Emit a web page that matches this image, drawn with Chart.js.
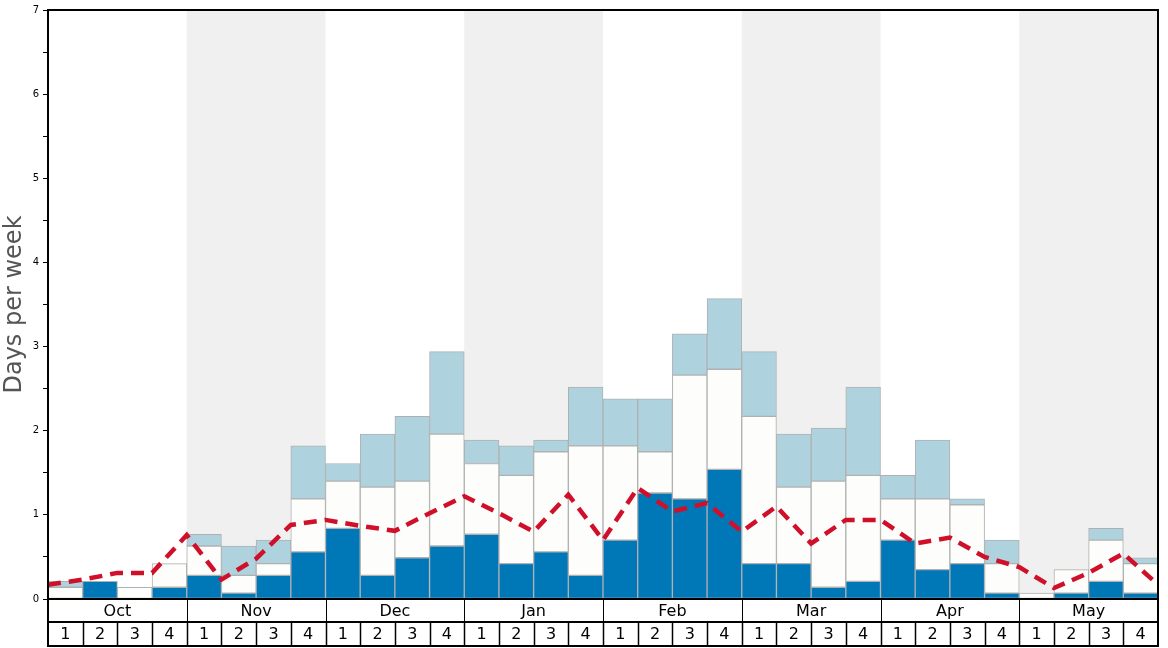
<!DOCTYPE html>
<html>
<head>
<meta charset="utf-8">
<script src="https://cdn.jsdelivr.net/npm/chart.js@4/dist/chart.umd.min.js"></script>
<style>
  body { margin: 0; background: #fff; }
  #wrap { width: 1168px; height: 648px; }
</style>
</head>
<body>
<div id="wrap"><canvas id="c" width="1168" height="648"></canvas></div>
<script>
const months = ["Oct", "Nov", "Dec", "Jan", "Feb", "Mar", "Apr", "May"];
const weeks = ["1", "2", "3", "4"];

// stacked segments, days per week
const deepDays = [
  0, 0.21, 0, 0.14,
  0.28, 0.07, 0.28, 0.56,
  0.84, 0.28, 0.49, 0.63,
  0.77, 0.42, 0.56, 0.28,
  0.70, 1.26, 1.19, 1.54,
  0.42, 0.42, 0.14, 0.21,
  0.70, 0.35, 0.42, 0.07,
  0, 0.07, 0.21, 0.07
];
const midDays = [
  0.14, 0, 0.14, 0.28,
  0.35, 0.21, 0.14, 0.63,
  0.56, 1.05, 0.91, 1.33,
  0.84, 1.05, 1.19, 1.54,
  1.12, 0.49, 1.47, 1.19,
  1.75, 0.91, 1.26, 1.26,
  0.49, 0.84, 0.70, 0.35,
  0.07, 0.28, 0.49, 0.35
];
const lightDays = [
  0.07, 0, 0, 0,
  0.14, 0.35, 0.28, 0.63,
  0.21, 0.63, 0.77, 0.98,
  0.28, 0.35, 0.14, 0.70,
  0.56, 0.63, 0.49, 0.84,
  0.77, 0.63, 0.63, 1.05,
  0.28, 0.70, 0.07, 0.28,
  0, 0, 0.14, 0.07
];
// average line, one value per week boundary
const avgLine = [
  0.17, 0.23, 0.31, 0.31, 0.76, 0.23, 0.48, 0.88,
  0.94, 0.87, 0.81, 1.02, 1.22, 1.02, 0.80, 1.24,
  0.70, 1.32, 1.04, 1.14, 0.80, 1.10, 0.66, 0.94,
  0.94, 0.66, 0.73, 0.50, 0.38, 0.13, 0.31, 0.54,
  0.17
];
const yTicks = [0, 1, 2, 3, 4, 5, 6, 7];

const labels = [];
months.forEach(m => weeks.forEach(w => labels.push(m + " " + w)));

const barStyle = {
  borderColor: "#b0b0b0",
  borderWidth: 1,
  borderSkipped: false,
  barPercentage: 1,
  categoryPercentage: 1,
  grouped: false,
  stack: "days",
  order: 1,
};

new Chart(document.getElementById("c"), {
  type: "bar",
  data: {
    labels: labels,
    datasets: [
      {
        type: "line",
        data: avgLine.map((v, i) => ({ x: i, y: v })),
        xAxisID: "x2",
        borderColor: "#d0102a",
        borderWidth: 4.5,
        borderDash: [13, 8],
        pointRadius: 0,
        tension: 0,
        fill: false,
        order: 0,
      },
      { ...barStyle, data: deepDays, backgroundColor: "#0077b6" },
      { ...barStyle, data: midDays, backgroundColor: "#fdfdfb" },
      { ...barStyle, data: lightDays, backgroundColor: "#aed3df" },
    ],
  },
  options: {
    responsive: false,
    animation: false,
    layout: { padding: { top: 10, right: 10, left: 0, bottom: 0 } },
    plugins: { legend: { display: false }, tooltip: { enabled: false } },
    scales: {
      x: {
        stacked: true,
        grid: { display: false },
        border: { display: false },
        ticks: { display: false },
        afterFit(scale) { scale.height = 49; },
      },
      x2: {
        type: "linear",
        min: 0,
        max: 32,
        offset: false,
        grid: { offset: false },
        display: false,
      },
      y: {
        stacked: true,
        min: 0,
        max: 7,
        afterFit(scale) { scale.width = 48; },
        ticks: {
          stepSize: 0.5,
          padding: 4,
          color: "#000",
          font: { family: "DejaVu Sans", size: 10 },
          callback: function (value) {
            return yTicks.includes(value) ? String(value) : "";
          },
        },
        grid: { drawOnChartArea: false, tickLength: 5, color: "#000" },
        border: { display: true, color: "#000", width: 2 },
        title: {
          display: true,
          text: "Days per week",
          color: "#555",
          padding: 0,
          font: { family: "DejaVu Sans", size: 24 },
        },
      },
    },
  },
  plugins: [
    {
      id: "monthBands",
      beforeDatasetsDraw(chart) {
        const ctx = chart.ctx;
        const x = chart.scales.x2;
        const { top, bottom } = chart.chartArea;
        ctx.save();
        ctx.fillStyle = "#f0f0f0";
        months.forEach((m, i) => {
          if (i % 2 === 1) {
            const l = x.getPixelForValue(i * 4);
            const r = x.getPixelForValue(i * 4 + 4);
            ctx.fillRect(l, top, r - l, bottom - top);
          }
        });
        ctx.restore();
      },
    },
    {
      id: "frameAndAxis",
      afterDraw(chart) {
        const ctx = chart.ctx;
        const x = chart.scales.x2;
        const { left, right, top, bottom } = chart.chartArea;
        const mid = bottom + 23;
        const end = 646;
        ctx.save();
        ctx.strokeStyle = "#000";

        // month separators
        ctx.lineWidth = 1;
        for (let i = 1; i < months.length; i++) {
          const px = Math.round(x.getPixelForValue(i * 4)) + 0.5;
          ctx.beginPath();
          ctx.moveTo(px, bottom);
          ctx.lineTo(px, mid);
          ctx.stroke();
        }
        // week separators
        ctx.lineWidth = 1.5;
        for (let i = 1; i < labels.length; i++) {
          const px = Math.round(x.getPixelForValue(i)) + 0.5;
          ctx.beginPath();
          ctx.moveTo(px, mid);
          ctx.lineTo(px, end);
          ctx.stroke();
        }
        ctx.lineWidth = 2;
        ctx.beginPath();
        ctx.moveTo(left, mid);
        ctx.lineTo(right, mid);
        ctx.moveTo(left, end);
        ctx.lineTo(right, end);
        ctx.moveTo(left, top);
        ctx.lineTo(left, end + 1);
        ctx.moveTo(right, top);
        ctx.lineTo(right, end + 1);
        ctx.stroke();
        ctx.strokeRect(left, top, right - left, bottom - top);

        ctx.fillStyle = "#000";
        ctx.font = "16px 'DejaVu Sans'";
        ctx.textAlign = "center";
        ctx.textBaseline = "middle";
        months.forEach((m, i) => {
          const cx = x.getPixelForValue(i * 4 + 2);
          ctx.fillText(m, cx, (bottom + mid) / 2 + 1);
        });
        labels.forEach((lab, i) => {
          const cx = x.getPixelForValue(i + 0.5);
          ctx.fillText(weeks[i % 4], cx, (mid + end) / 2 + 1);
        });
        ctx.restore();
      },
    },
  ],
});
</script>
</body>
</html>
